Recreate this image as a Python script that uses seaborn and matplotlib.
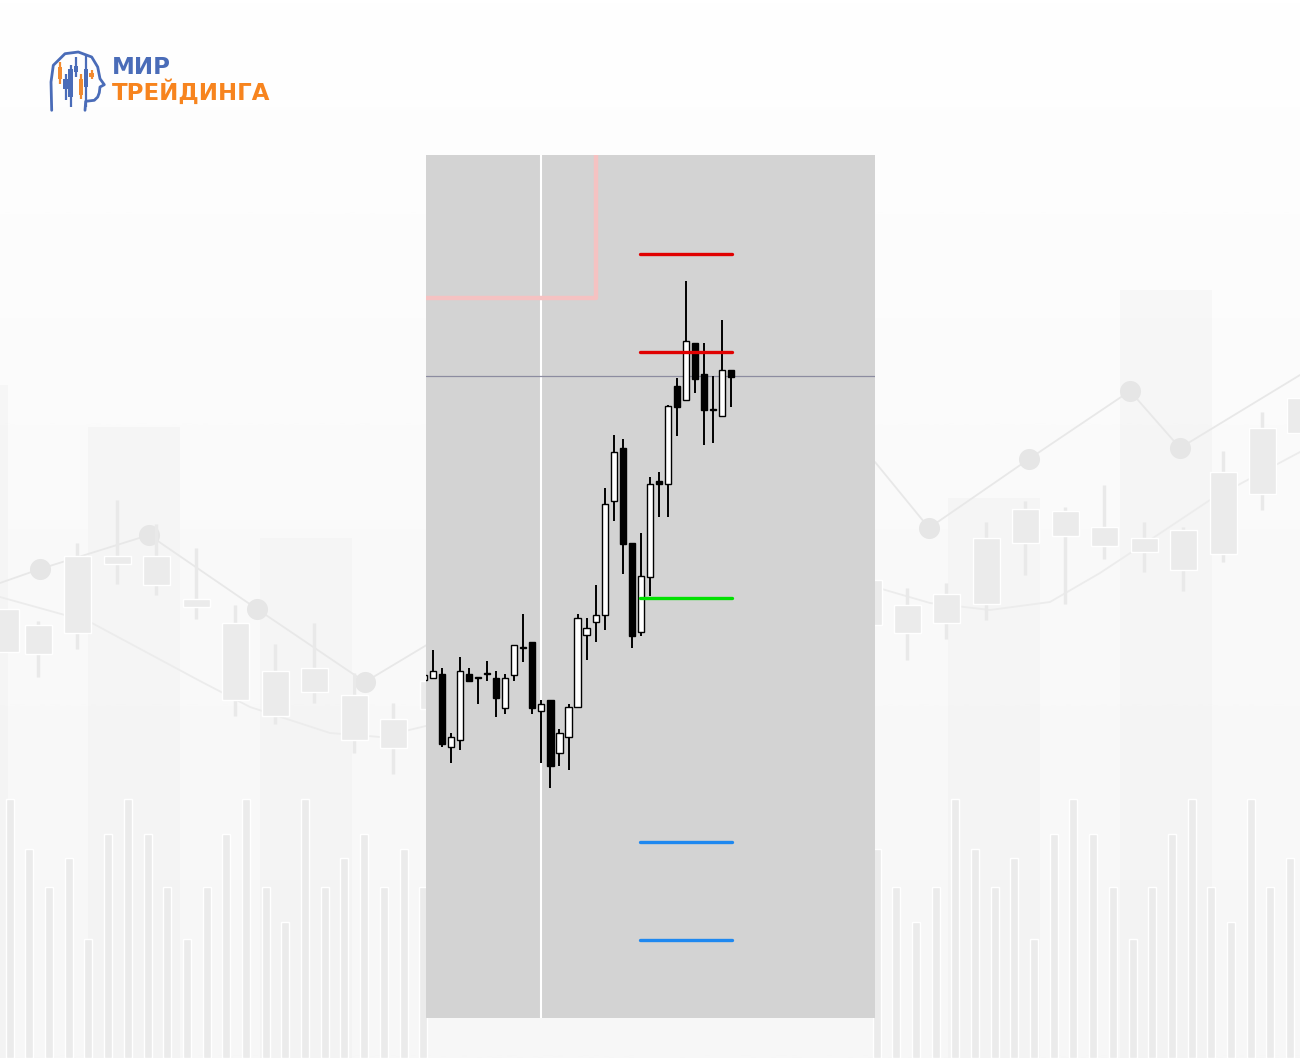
import numpy as np
import matplotlib.pyplot as plt
import seaborn as sns
import pandas as pd

# ---- main chart data (price in points, candle index = position) ----
candle_open = [338, 340, 344, 271, 278, 344, 340, 344, 340, 310, 343, 370, 376, 307, 318,
               265, 281, 311, 383, 396, 403, 517, 570, 475, 386, 441, 537, 534, 632, 618,
               675, 644, 608, 602, 648]
candle_high = [346, 368, 350, 285, 361, 350, 341, 357, 347, 344, 373, 404, 376, 318, 318,
               289, 314, 404, 400, 433, 530, 583, 579, 475, 485, 541, 546, 613, 640, 737,
               675, 675, 642, 698, 648]
candle_low = [336, 340, 271, 255, 268, 337, 314, 337, 301, 304, 337, 356, 304, 255, 230,
              252, 248, 311, 358, 376, 388, 497, 444, 370, 382, 422, 501, 501, 582, 618,
              625, 573, 575, 602, 611]
candle_close = [343, 347, 274, 281, 347, 337, 340, 344, 320, 340, 373, 370, 310, 314, 252,
                285, 311, 400, 390, 403, 514, 566, 474, 382, 442, 534, 534, 612, 611, 677,
                639, 608, 608, 648, 641]

resistance_levels = [764, 666]
entry_level = 420
support_levels = [176, 78]
current_price = 642
box_level = 720
box_index = 19.05
marker_index = 12.96

# ---- decorative background data (pixel units) ----
vol_left_x = [10, 29, 49, 69, 88, 108, 128, 148, 167, 187, 207, 226, 246, 266, 285, 305,
              325, 344, 364, 384, 404, 423]
vol_left_top = [799, 849, 887, 858, 939, 834, 799, 834, 887, 939, 887, 834, 799, 887, 922,
                799, 887, 858, 834, 887, 849, 887]
vol_right_x = [877, 896, 916, 936, 955, 975, 995, 1014, 1034, 1054, 1073, 1093, 1113, 1133,
               1152, 1172, 1192, 1211, 1231, 1251, 1270, 1290]
vol_right_top = [849, 887, 922, 887, 799, 849, 887, 858, 939, 834, 799, 834, 887, 939, 887,
                 834, 799, 887, 922, 799, 887, 858]

bg_candle_x = [5, 38, 77, 117, 156, 196, 235, 275, 314, 354, 393, 433,
               868, 907, 946, 986, 1025, 1065, 1104, 1144, 1183, 1223, 1262, 1300]
bg_body_top = [609, 625, 556, 556, 556, 599, 623, 671, 668, 695, 719, 681,
               580, 605, 594, 538, 509, 511, 527, 538, 530, 472, 428, 398]
bg_body_bot = [652, 654, 633, 564, 585, 607, 700, 716, 692, 740, 748, 709,
               625, 633, 623, 604, 543, 536, 546, 552, 570, 554, 494, 433]
bg_wick_top = [609, 621, 543, 500, 524, 548, 605, 644, 623, 673, 703, 681,
               580, 588, 583, 522, 501, 507, 485, 522, 527, 451, 412, 398]
bg_wick_bot = [652, 677, 649, 584, 595, 619, 716, 724, 703, 753, 774, 709,
               625, 660, 639, 620, 575, 604, 559, 572, 591, 562, 510, 433]

line_x = [0, 40, 149, 257, 365, 430, 875, 929, 1029, 1130, 1180, 1300]
line_y = [583, 569, 535, 609, 682, 643, 462, 528, 459, 391, 448, 375]
dot_x = [40, 149, 257, 365, 929, 1029, 1130, 1180]
dot_y = [569, 535, 609, 682, 528, 459, 391, 448]

curve_x = [0, 90, 200, 250, 330, 380, 430, 875, 930, 990, 1050, 1100, 1150, 1210, 1300]
curve_y = [597, 622, 681, 707, 733, 737, 725, 587, 603, 610, 602, 573, 540, 500, 452]

shade_x = [0, 88, 260, 948, 1120]
shade_w = [8, 92, 92, 92, 92]
shade_top = [385, 427, 538, 498, 290]

# logo icon
head_x = [51.7, 51, 53.3, 65, 78.3, 91.7, 97.7, 100, 104.3, 100, 99.3, 97.7, 94.3, 85.7, 85]
head_y = [110.3, 82, 65.3, 53.7, 52, 57, 67, 78.7, 84.7, 87, 92.7, 97, 100.3, 101.3, 110.3]
icon_x = [60, 65.7, 70.7, 76, 81, 86, 91.7]
icon_body_top = [67, 78.7, 68.7, 66, 78.7, 69.3, 72.7]
icon_body_bot = [78.7, 88.7, 97, 72, 95.3, 87, 77]
icon_wick_top = [62, 73.7, 65.3, 57, 73.7, 55.3, 70.3]
icon_wick_bot = [83.7, 100.3, 107, 77, 98.7, 107, 79.3]
icon_color = ["#f28a2e", "#4a6cb8", "#4a6cb8", "#4a6cb8", "#f28a2e", "#4a6cb8", "#f28a2e"]

sns.set_style("white")

fig = plt.figure(figsize=(13, 10.58), dpi=100)
fig.patch.set_facecolor("#f8f8f8")

# background layer in pixel coordinates
bg = fig.add_axes([0, 0, 1, 1])
bg.set_xlim(0, 1300)
bg.set_ylim(1058, 0)
bg.axis("off")
grad = np.linspace(0, 1, 512).reshape(-1, 1)
bg.imshow(grad, extent=[0, 1300, 1058, 0], aspect="auto", interpolation="bilinear",
          cmap=plt.matplotlib.colors.LinearSegmentedColormap.from_list(
              "bgg", ["#ffffff", "#fafafa", "#f7f7f7"]), zorder=0)

for x, w, t in zip(shade_x, shade_w, shade_top):
    bg.add_patch(plt.Rectangle((x, t), w, 1058 - t, color="#eeeeee", alpha=0.35,
                               lw=0, zorder=1))

bg.bar(vol_left_x + vol_right_x,
       [1058 - t for t in vol_left_top + vol_right_top],
       bottom=vol_left_top + vol_right_top, width=8, color="#ebebeb", zorder=2)

sns.lineplot(x=curve_x, y=curve_y, ax=bg, color="#ececec", lw=1.3, sort=False, zorder=2)
sns.lineplot(x=line_x, y=line_y, ax=bg, color="#e8e8e8", lw=1.3, sort=False, zorder=2)
sns.scatterplot(x=dot_x, y=dot_y, ax=bg, color="#e6e6e6", s=230, linewidth=0, zorder=3)

bg.vlines(bg_candle_x, bg_wick_top, bg_wick_bot, color="#e9e9e9", lw=2.5, zorder=3)
bg.bar(bg_candle_x, [b - t for t, b in zip(bg_body_top, bg_body_bot)], bottom=bg_body_top,
       width=27, color="#ebebeb", zorder=4)

# logo
bg.plot(head_x, head_y, color="#4a6cb8", lw=2.0, solid_capstyle="round", zorder=5)
bg.vlines(icon_x, icon_wick_top, icon_wick_bot, colors=icon_color, lw=1.6, zorder=5)
bg.bar(icon_x, [b - t for t, b in zip(icon_body_top, icon_body_bot)], bottom=icon_body_top,
       width=4.6, color=icon_color, lw=0, zorder=6)
bg.text(112, 73.5, "МИР", color="#4a6cb8", fontsize=16.5, fontweight="bold",
        family=["DejaVu Sans"], va="baseline", ha="left", zorder=6)
bg.text(112, 100, "ТРЕЙДИНГА", color="#f7841e", fontsize=16.5, fontweight="bold",
        family=["DejaVu Sans"], va="baseline", ha="left", zorder=6)

# main chart panel
ax = fig.add_axes([426 / 1300, 40 / 1058, 449 / 1300, 863 / 1058])
ax.set_facecolor("#d3d3d3")
for s in ax.spines.values():
    s.set_visible(False)
ax.set_xticks([])
ax.set_yticks([])
ax.set_xlim(0.22, 49.94)
ax.set_ylim(0, 863)

df = pd.DataFrame({"open": candle_open, "high": candle_high,
                   "low": candle_low, "close": candle_close})
df["idx"] = np.arange(len(df))
df["up"] = df["close"] >= df["open"]

# marker lines
ax.axvline(marker_index, color="white", lw=1.5, zorder=1)
ax.plot([0, box_index, box_index], [box_level, box_level, 863],
        color="#f5c2c2", lw=3.2, zorder=1)
ax.axhline(current_price, color="#8c8ca0", lw=0.9, zorder=1)

# candles
ax.vlines(df["idx"], df["low"], df["high"], color="black", lw=1.4, zorder=3)
body_low = df[["open", "close"]].min(axis=1)
body_h = (df["close"] - df["open"]).abs().clip(lower=1.5)
ax.bar(df["idx"], body_h, bottom=body_low, width=0.68,
       color=np.where(df["up"], "white", "black"), edgecolor="black", lw=1.0, zorder=4)

# levels
for lvl in resistance_levels:
    ax.hlines(lvl, 23.9, 34.1, color="#e00000", lw=2.4, capstyle="round", zorder=5)
ax.hlines(entry_level, 23.9, 34.1, color="#00e000", lw=2.4, capstyle="round", zorder=5)
for lvl in support_levels:
    ax.hlines(lvl, 23.9, 34.1, color="#1e88f0", lw=2.4, capstyle="round", zorder=5)

fig.savefig("out.png", dpi=100, facecolor=fig.get_facecolor())
